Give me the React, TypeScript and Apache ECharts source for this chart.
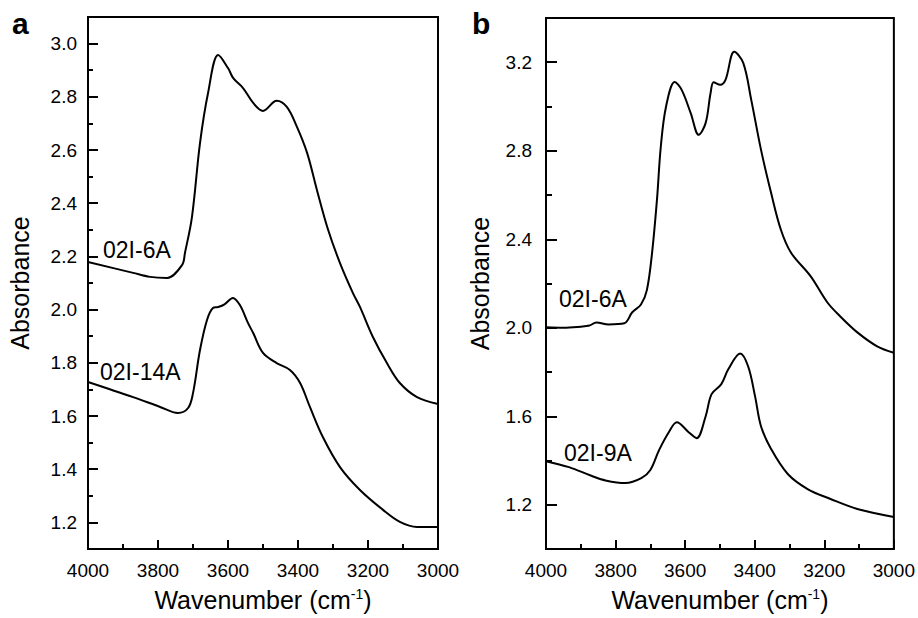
import { useEffect, useRef } from 'react';
import * as echarts from 'echarts';

// Panel a
const wnA6 = [4000, 3871, 3823, 3774, 3731, 3723, 3703, 3680, 3657, 3628, 3600, 3585, 3557, 3528, 3500, 3461, 3432, 3403, 3374, 3346, 3314, 3280, 3243, 3223, 3186, 3146, 3109, 3060, 3000];
const absA6 = [2.179, 2.138, 2.123, 2.119, 2.168, 2.213, 2.348, 2.626, 2.814, 2.957, 2.908, 2.87, 2.833, 2.777, 2.747, 2.785, 2.762, 2.687, 2.589, 2.45, 2.3, 2.175, 2.062, 2.01, 1.897, 1.799, 1.724, 1.671, 1.645];
const wnA14 = [4000, 3871, 3794, 3743, 3714, 3700, 3680, 3660, 3643, 3628, 3610, 3586, 3566, 3543, 3528, 3500, 3461, 3423, 3394, 3366, 3329, 3280, 3223, 3157, 3109, 3060, 3000];
const absA14 = [1.728, 1.671, 1.634, 1.611, 1.63, 1.686, 1.848, 1.961, 2.006, 2.01, 2.02, 2.044, 2.017, 1.95, 1.912, 1.837, 1.799, 1.773, 1.724, 1.634, 1.521, 1.408, 1.322, 1.247, 1.202, 1.183, 1.183];

// Panel b
const wnB6 = [4000, 3950, 3900, 3875, 3855, 3820, 3775, 3752, 3727, 3710, 3695, 3681, 3670, 3655, 3630, 3610, 3584, 3561, 3541, 3527, 3518, 3499, 3484, 3459, 3433, 3410, 3382, 3353, 3325, 3296, 3239, 3191, 3154, 3105, 3048, 3000];
const absB6 = [2.002, 2.0, 2.005, 2.01, 2.024, 2.015, 2.02, 2.07, 2.105, 2.17, 2.34, 2.579, 2.818, 2.999, 3.111, 3.075, 2.97, 2.872, 2.926, 3.06, 3.11, 3.098, 3.12, 3.247, 3.197, 3.03, 2.805, 2.61, 2.444, 2.34, 2.232, 2.114, 2.051, 1.979, 1.916, 1.887];
const wnB9 = [4000, 3934, 3868, 3829, 3772, 3726, 3700, 3675, 3647, 3624, 3590, 3567, 3541, 3524, 3496, 3476, 3442, 3419, 3399, 3382, 3353, 3305, 3248, 3182, 3105, 3000];
const absB9 = [1.397, 1.37, 1.33, 1.31, 1.298, 1.32, 1.357, 1.447, 1.528, 1.573, 1.528, 1.501, 1.6, 1.7, 1.745, 1.812, 1.884, 1.826, 1.69, 1.555, 1.452, 1.339, 1.271, 1.226, 1.181, 1.145];

// Tick values
const xMajor = [3000, 3200, 3400, 3600, 3800, 4000];
const xMinor = [3100, 3300, 3500, 3700, 3900];
const leftMajor = [1.2, 1.4, 1.6, 1.8, 2.0, 2.2, 2.4, 2.6, 2.8, 3.0];
const leftMinor = [1.3, 1.5, 1.7, 1.9, 2.1, 2.3, 2.5, 2.7, 2.9];
const rightMajor = [1.2, 1.6, 2.0, 2.4, 2.8, 3.2];
const rightMinor = [1.4, 1.8, 2.2, 2.6, 3.0];

const seriesNames = ['02I-6A', '02I-14A', '02I-6A', '02I-9A'];

const FONT = '"Liberation Sans", Arial, sans-serif';

const pairs = (xs: number[], ys: number[]) => xs.map((x, i) => [x, ys[i]]);

export default function App() {
  const ref = useRef<HTMLDivElement>(null);
  useEffect(() => {
    if (!ref.current) return;
    const chart = echarts.init(ref.current, undefined, { renderer: 'svg' });

    const xMain = (gridIndex: number) => ({
      type: 'value',
      gridIndex,
      position: 'bottom',
      min: 3000,
      max: 4000,
      inverse: true,
      name: 'Wavenumber (cm{sup|-1})',
      nameLocation: 'middle',
      nameGap: 38,
      nameTextStyle: {
        fontFamily: FONT,
        fontSize: 25,
        color: '#000',
        rich: {
          sup: { fontFamily: FONT, fontSize: 14, color: '#000', verticalAlign: 'bottom', padding: [0, 0, 12, 0] },
        },
      },
      axisLine: { show: true, lineStyle: { color: '#000', width: 2 } },
      axisTick: { show: false },
      axisLabel: { fontFamily: FONT, fontSize: 19, color: '#000', margin: 12, customValues: xMajor, formatter: (v: number) => String(v) },
      splitLine: { show: false },
    });

    const xTicks = (gridIndex: number, vals: number[], len: number) => ({
      type: 'value',
      gridIndex,
      position: 'bottom',
      min: 3000,
      max: 4000,
      inverse: true,
      axisLine: { show: false },
      axisTick: { show: true, inside: true, length: len, customValues: vals, lineStyle: { color: '#000', width: 2 } },
      axisLabel: { show: false },
      splitLine: { show: false },
    });

    const yMain = (gridIndex: number, min: number, max: number, major: number[], gap: number, margin: number) => ({
      type: 'value',
      gridIndex,
      position: 'left',
      min,
      max,
      name: 'Absorbance',
      nameLocation: 'middle',
      nameGap: gap,
      nameTextStyle: { fontFamily: FONT, fontSize: 25, color: '#000' },
      axisLine: { show: true, lineStyle: { color: '#000', width: 2 } },
      axisTick: { show: false },
      axisLabel: {
        fontFamily: FONT,
        fontSize: 19,
        color: '#000',
        margin,
        customValues: major,
        formatter: (v: number) => v.toFixed(1),
      },
      splitLine: { show: false },
    });

    const yTicks = (gridIndex: number, min: number, max: number, vals: number[], len: number) => ({
      type: 'value',
      gridIndex,
      position: 'left',
      min,
      max,
      axisLine: { show: false },
      axisTick: { show: true, inside: true, length: len, customValues: vals, lineStyle: { color: '#000', width: 2 } },
      axisLabel: { show: false },
      splitLine: { show: false },
    });

    const lineSeries = (name: string, xi: number, yi: number, data: number[][]) => ({
      type: 'line',
      name,
      xAxisIndex: xi,
      yAxisIndex: yi,
      data,
      smooth: 0.35,
      showSymbol: false,
      symbol: 'none',
      lineStyle: { color: '#000', width: 2 },
      silent: true,
    });

    chart.setOption({
      animation: false,
      backgroundColor: '#fff',
      grid: [
        { left: 88, top: 17, width: 350, height: 532, show: true, borderColor: '#000', borderWidth: 2, backgroundColor: 'transparent' },
        { left: 546, top: 18, width: 351, height: 531, show: true, borderColor: '#000', borderWidth: 2, backgroundColor: 'transparent' },
      ],
      xAxis: [xMain(0), xMain(1), xTicks(0, xMajor, 9), xTicks(0, xMinor, 5), xTicks(1, xMajor, 9), xTicks(1, xMinor, 5)],
      yAxis: [
        yMain(0, 1.1, 3.1, leftMajor, 56, 11),
        yTicks(0, 1.1, 3.1, leftMajor, 10),
        yTicks(0, 1.1, 3.1, leftMinor, 5),
        yMain(1, 1.0, 3.4, rightMajor, 54, 14),
        yTicks(1, 1.0, 3.4, rightMajor, 11),
        yTicks(1, 1.0, 3.4, rightMinor, 6),
      ],
      series: [
        lineSeries(seriesNames[0], 0, 0, pairs(wnA6, absA6)),
        lineSeries(seriesNames[1], 0, 0, pairs(wnA14, absA14)),
        lineSeries(seriesNames[2], 1, 3, pairs(wnB6, absB6)),
        lineSeries(seriesNames[3], 1, 3, pairs(wnB9, absB9)),
      ],
      graphic: [
        { type: 'text', left: 12, top: 8, style: { text: 'a', fontFamily: FONT, fontSize: 30, fontWeight: 'bold', fill: '#000' } },
        { type: 'text', left: 472, top: 8, style: { text: 'b', fontFamily: FONT, fontSize: 30, fontWeight: 'bold', fill: '#000' } },
        { type: 'text', x: 103, y: 250, style: { text: seriesNames[0], fontFamily: FONT, fontSize: 23, fill: '#000', verticalAlign: 'middle' } },
        { type: 'text', x: 100, y: 372, style: { text: seriesNames[1], fontFamily: FONT, fontSize: 23, fill: '#000', verticalAlign: 'middle' } },
        { type: 'text', x: 559, y: 299, style: { text: seriesNames[2], fontFamily: FONT, fontSize: 23, fill: '#000', verticalAlign: 'middle' } },
        { type: 'text', x: 564, y: 453, style: { text: seriesNames[3], fontFamily: FONT, fontSize: 23, fill: '#000', verticalAlign: 'middle' } },
      ],
    });

    return () => chart.dispose();
  }, []);

  return <div ref={ref} style={{ position: 'fixed', left: 0, top: 0, width: 918, height: 618 }} />;
}
